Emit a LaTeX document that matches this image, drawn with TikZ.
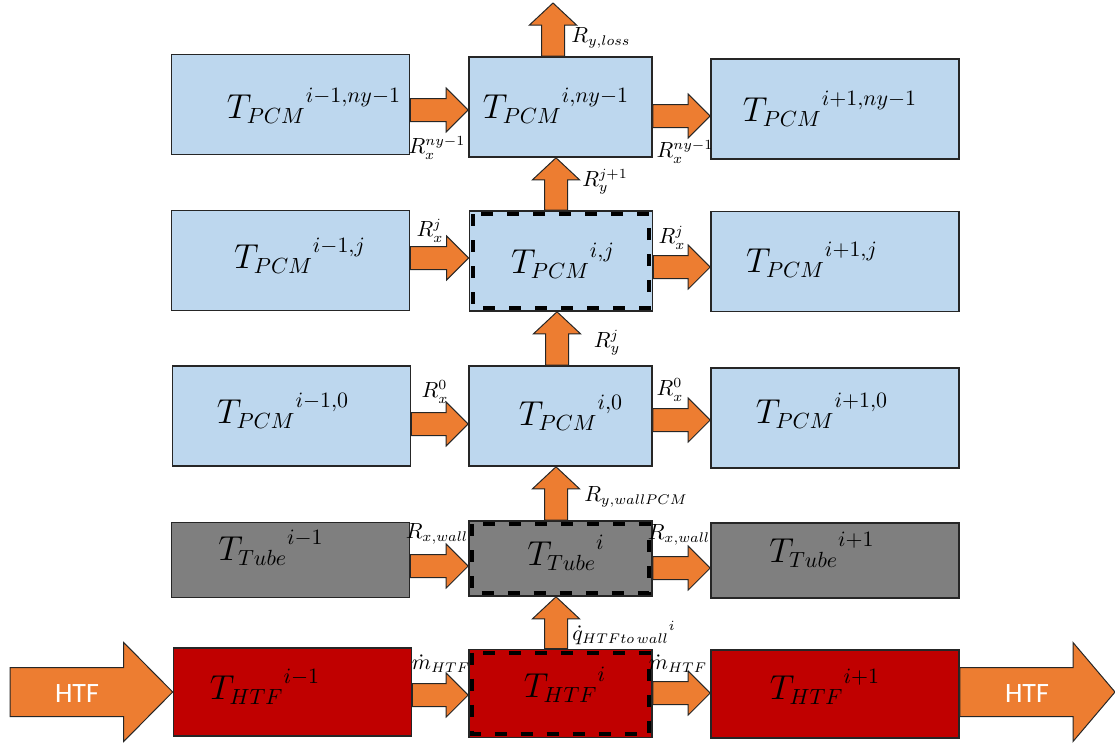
\documentclass[tikz,border=0pt]{standalone}
\usepackage{fontspec}
\newfontfamily\calibri{Carlito}
\usetikzlibrary{calc}
\definecolor{pcmblue}{HTML}{BDD7EE}
\definecolor{tubegray}{HTML}{7F7F7F}
\definecolor{htfred}{HTML}{C00000}
\definecolor{arrorange}{HTML}{ED7D31}
\definecolor{edgegray}{HTML}{262626}
% horizontal block arrow: tail anchor, tip anchor, y (px)
\newcommand\rblk[3]{\draw[blk] let \p1=#1, \p2=#2, \p3=(0,#3) in
  (\x1,\y3+5.75pt) -- (\x2-11pt,\y3+5.75pt) -- (\x2-11pt,\y3+11pt) -- (\x2,\y3)
  -- (\x2-11pt,\y3-11pt) -- (\x2-11pt,\y3-5.75pt) -- (\x1,\y3-5.75pt) -- cycle;}
% vertical block arrow (up): tail anchor, tip anchor, x (px)
\newcommand\ublk[3]{\draw[blk] let \p1=#1, \p2=#2, \p3=(#3,0) in
  (\x3-5.75pt,\y1) -- (\x3-5.75pt,\y2-11pt) -- (\x3-11.75pt,\y2-11pt) -- (\x3,\y2)
  -- (\x3+11.75pt,\y2-11pt) -- (\x3+5.75pt,\y2-11pt) -- (\x3+5.75pt,\y1) -- cycle;}
% big block arrow: tail, tip, head length
\newcommand\bigblk[3]{\draw[blk] let \p1=#1, \p2=#2 in
  (\x1,\y2+12.25pt) -- (\x2-#3,\y2+12.25pt) -- (\x2-#3,\y2+24.75pt) -- (\x2,\y2)
  -- (\x2-#3,\y2-24.75pt) -- (\x2-#3,\y2-12.25pt) -- (\x1,\y2-12.25pt) -- cycle;}
\begin{document}
\begin{tikzpicture}[x=0.5pt,y=-0.5pt,
  cell/.style={draw=edgegray, line width=0.8pt, inner sep=0pt},
  pcm/.style={cell, fill=pcmblue},
  tube/.style={cell, fill=tubegray},
  htf/.style={cell, fill=htfred},
  colL/.style={minimum width=119pt},
  colM/.style={minimum width=91.5pt},
  colR/.style={minimum width=124pt},
  rowA/.style={minimum height=50pt},
  rowD/.style={minimum height=37.5pt},
  rowE/.style={minimum height=44pt},
  boxtxt/.style={inner sep=0pt, anchor=base, font=\fontsize{16}{19}\selectfont},
  lbl/.style={inner sep=0pt, font=\fontsize{10.5}{12}\selectfont},
  blk/.style={fill=arrorange, draw=black!85, line width=0.5pt, line join=miter},
  dashin/.style={draw=black, line width=2pt, dash pattern=on 6pt off 7pt},
  htftext/.style={inner sep=0pt, text=white, font=\calibri\fontsize{14}{17}\selectfont}]
\useasboundingbox (0,0) rectangle (1115,744);

% ---- boxes ----
\node[pcm, colL, rowA] (L1) at (290.5,104.5) {};
\node[pcm, colM, rowA] (M1) at (560.5,107) {};
\node[pcm, colR, rowA] (R1) at (835,109) {};
\node[pcm, colL, rowA] (L2) at (290.5,260.5) {};
\node[pcm, colM, rowA] (M2) at (561,261) {};
\node[pcm, colR, rowA] (R2) at (835,261.5) {};
\node[pcm, colL, rowA] (L3) at (291.5,416) {};
\node[pcm, colM, rowA] (M3) at (560.5,416) {};
\node[pcm, colR, rowA] (R3) at (835,418) {};
\node[tube, colL, rowD] (L4) at (290.5,560) {};
\node[tube, colM, rowD] (M4) at (560.5,558.5) {};
\node[tube, colR, rowD] (R4) at (835,560.5) {};
\node[htf, colL, rowE] (L5) at (292.5,692) {};
\node[htf, colM, rowE] (M5) at (560.5,693.5) {};
\node[htf, colR, rowE] (R5) at (835,694) {};

% ---- dashed control volumes ----
\draw[dashin] ($(M2.north west)+(2pt,-2pt)$) rectangle ($(M2.south east)+(-2pt,2pt)$);
\draw[dashin] ($(M4.north west)+(2pt,-2pt)$) rectangle ($(M4.south east)+(-2pt,2pt)$);
\draw[dashin] ($(M5.north west)+(2pt,-2pt)$) rectangle ($(M5.south east)+(-2pt,2pt)$);

% ---- box texts ----
\node[boxtxt] (tL1) at (314,118) {${T_{PCM}}^{i-1,ny-1}$};
\node[boxtxt] (tM1) at (556,118) {${T_{PCM}}^{i,ny-1}$};
\node[boxtxt] (tR1) at (830,121) {${T_{PCM}}^{i+1,ny-1}$};
\node[boxtxt] (tL2) at (300,268) {${T_{PCM}}^{i-1,j}$};
\node[boxtxt] (tM2) at (563,273) {${T_{PCM}}^{i,j}$};
\node[boxtxt] (tR2) at (812,272) {${T_{PCM}}^{i+1,j}$};
\node[boxtxt] (tL3) at (283,423) {${T_{PCM}}^{i-1,0}$};
\node[boxtxt] (tM3) at (571,425) {${T_{PCM}}^{i,0}$};
\node[boxtxt] (tR3) at (822,423) {${T_{PCM}}^{i+1,0}$};
\node[boxtxt] (tL4) at (271,560) {${T_{Tube}}^{i-1}$};
\node[boxtxt] (tM4) at (566,565) {${T_{Tube}}^{i}$};
\node[boxtxt] (tR4) at (822,562) {${T_{Tube}}^{i+1}$};
\node[boxtxt] (tL5) at (265,699) {${T_{HTF}}^{i-1}$};
\node[boxtxt] (tM5) at (565,697) {${T_{HTF}}^{i}$};
\node[boxtxt] (tR5) at (825,699) {${T_{HTF}}^{i+1}$};

% ---- free ends ----
\coordinate (loss) at (553,3);
\coordinate (htfin) at (10,692);
\coordinate (htfout) at (1115,692);

% ---- horizontal block arrows ----
\rblk{(L1.east)}{(M1.west)}{110}
\rblk{(M1.east)}{(R1.west)}{116}
\rblk{(L2.east)}{(M2.west)}{258}
\rblk{(M2.east)}{(R2.west)}{267}
\rblk{(L3.east)}{(M3.west)}{424}
\rblk{(M3.east)}{(R3.west)}{420}
\rblk{(L4.east)}{(M4.west)}{566}
\rblk{(M4.east)}{(R4.west)}{568}
\rblk{(L5.east)}{(M5.west)}{695}
\rblk{(M5.east)}{(R5.west)}{693}

% ---- vertical block arrows ----
\ublk{(M1.north)}{(loss)}{553}
\ublk{(M2.north)}{(M1.south)}{556}
\ublk{(M3.north)}{(M2.south)}{557}
\ublk{(M4.north)}{(M3.south)}{556}
\ublk{(M5.north)}{(M4.south)}{556}

% ---- HTF inlet / outlet ----
\bigblk{(htfin)}{(L5.west)}{24.5pt}
\bigblk{(R5.east)}{(htfout)}{21pt}
\node[htftext] (hin) at (77,694) {HTF};
\node[htftext] (hout) at (1027,694) {HTF};

% ---- labels ----
\node[lbl] (lloss) at (601,38) {$R_{y,loss}$};
\node[lbl] (lx1a) at (437,148) {$R_x^{ny-1}$};
\node[lbl] (lx1b) at (685,152) {$R_x^{ny-1}$};
\node[lbl] (ly2) at (605,182) {$R_y^{j+1}$};
\node[lbl] (lx2a) at (430,231) {$R_x^{j}$};
\node[lbl] (lx2b) at (672,238) {$R_x^{j}$};
\node[lbl] (ly3) at (607,343) {$R_y^{j}$};
\node[lbl] (lx3a) at (435,392) {$R_x^{0}$};
\node[lbl] (lx3b) at (670,390) {$R_x^{0}$};
\node[lbl] (lwp) at (636,497) {$R_{y,wallPCM}$};
\node[lbl] (lx4a) at (437,534) {$R_{x,wall}$};
\node[lbl] (lx4b) at (679,535) {$R_{x,wall}$};
\node[lbl] (lq) at (624,633) {${\dot{q}_{HTFto\,wall}{}}^{i}$};
\node[lbl] (lm5a) at (441,664) {$\dot{m}_{HTF}$};
\node[lbl] (lm5b) at (678,664) {$\dot{m}_{HTF}$};
\end{tikzpicture}
\end{document}
